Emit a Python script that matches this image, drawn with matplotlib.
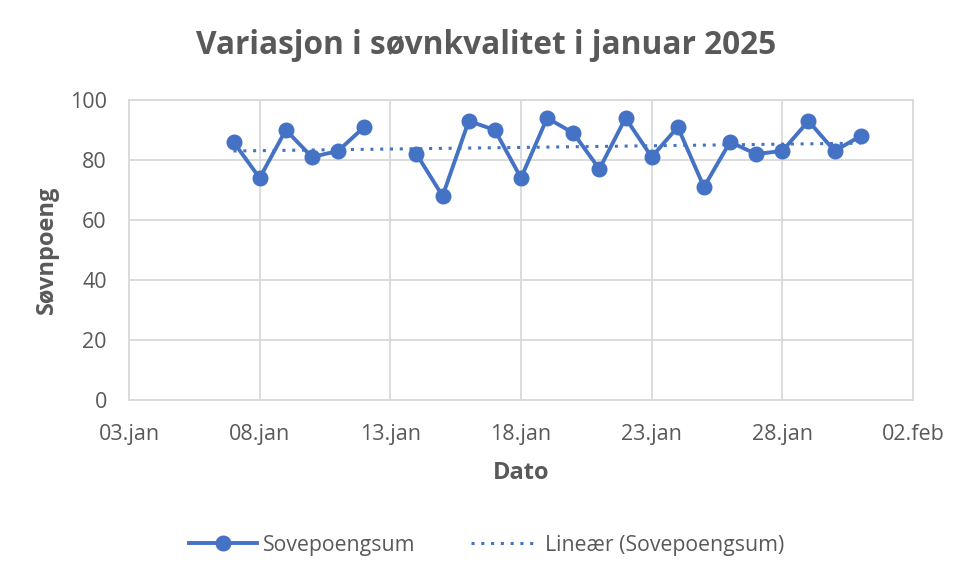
import numpy as np
import pandas as pd
import matplotlib
matplotlib.use('Agg')
import matplotlib.pyplot as plt
import matplotlib.dates as mdates

plt.rcParams['font.family'] = ['Open Sans', 'DejaVu Sans']

# sleep scores, Jan 13 missing
dates = ['2025-01-07', '2025-01-08', '2025-01-09', '2025-01-10', '2025-01-11', '2025-01-12',
         '2025-01-14', '2025-01-15', '2025-01-16', '2025-01-17', '2025-01-18', '2025-01-19',
         '2025-01-20', '2025-01-21', '2025-01-22', '2025-01-23', '2025-01-24', '2025-01-25',
         '2025-01-26', '2025-01-27', '2025-01-28', '2025-01-29', '2025-01-30', '2025-01-31']
scores = [86, 74, 90, 81, 83, 91,
          82, 68, 93, 90, 74, 94,
          89, 77, 94, 81, 91, 71,
          86, 82, 83, 93, 83, 88]

tick_dates = ['2025-01-03', '2025-01-08', '2025-01-13', '2025-01-18',
              '2025-01-23', '2025-01-28', '2025-02-02']
tick_labels = ['03.jan', '08.jan', '13.jan', '18.jan', '23.jan', '28.jan', '02.feb']

blue = '#4472C4'
grey = '#595959'

df = pd.DataFrame({'Dato': pd.to_datetime(dates), 'Score': scores}).set_index('Dato')
full = df.reindex(pd.date_range(df.index.min(), df.index.max(), freq='D'))

xnum = mdates.date2num(df.index)
coef = np.polyfit(xnum, df['Score'], 1)
trend_x = np.array([xnum.min(), xnum.max()])
trend_y = np.polyval(coef, trend_x)

fig = plt.figure(figsize=(9.73, 5.82), dpi=100)
ax = fig.add_axes([129 / 973, 1 - 400 / 582, 784 / 973, 300 / 582])

ax.plot(full.index, full['Score'], color=blue, lw=2.8, marker='o', ms=10.5,
        label='Sovepoengsum', zorder=3)
ax.plot(mdates.num2date(trend_x), trend_y, color=blue, lw=2.2, linestyle=(0, (1, 2.2)),
        label='Lineær (Sovepoengsum)', zorder=2)

ax.set_ylim(0, 100)
ax.set_yticks(range(0, 101, 20))
tick_pos = pd.to_datetime(tick_dates)
ax.set_xlim(tick_pos[0], tick_pos[-1])
ax.set_xticks(tick_pos)
ax.set_xticklabels(tick_labels)

ax.grid(True, color='#D9D9D9', lw=1.3)
ax.set_axisbelow(True)
for s in ax.spines.values():
    s.set_color('#D9D9D9')
    s.set_linewidth(1.3)
ax.tick_params(length=0, labelsize=15.5, colors=grey)
ax.tick_params(axis='x', pad=17)
ax.tick_params(axis='y', pad=16)

# title is centred on the figure, not the plot area
fig.text(0.5, 1 - 45 / 582, 'Variasjon i søvnkvalitet i januar 2025', fontsize=22.8,
         fontweight='bold', color=grey, ha='center', va='center')
ax.set_xlabel('Dato', fontsize=17, fontweight='bold', color=grey, labelpad=12)
ax.set_ylabel('Søvnpoeng', fontsize=17, fontweight='bold', color=grey, labelpad=8)

leg = fig.legend(loc='center', bbox_to_anchor=(0.5, 1 - 545 / 582), ncol=2, frameon=False,
                 fontsize=15.3, handlelength=3.2, handletextpad=0.3, columnspacing=2.6)
for t in leg.get_texts():
    t.set_color(grey)

fig.savefig('out.png', dpi=100)
